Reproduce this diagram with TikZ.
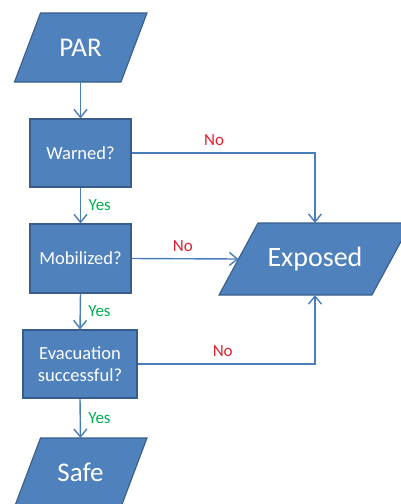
\documentclass[tikz,border=0pt]{standalone}
\usepackage{fontspec}
\setmainfont{Carlito}
\usetikzlibrary{arrows.meta}
\definecolor{boxfill}{HTML}{4F81BD}
\definecolor{boxline}{HTML}{385D8A}
\definecolor{connc}{HTML}{4A7EBB}
\definecolor{nored}{HTML}{E0202F}
\definecolor{yesgreen}{HTML}{00B050}
\tikzset{
  stepbox/.style={draw=boxline, fill=boxfill, line width=1.1pt, text=white,
    align=center, inner sep=0pt, font=\fontsize{18.5}{22}\selectfont},
  paral/.style={draw=boxline, fill=boxfill, line width=1.1pt},
  bigtext/.style={text=white, inner sep=0pt, font=\fontsize{27}{30}\selectfont},
  conn/.style={draw=connc, line width=1.4pt, -{Straight Barb[length=8pt,width=13pt,line width=1.4pt]}},
  nolab/.style={text=nored, anchor=south, inner sep=0pt, yshift=6.5pt, font=\fontsize{17}{20}\selectfont},
  yeslab/.style={text=yesgreen, anchor=west, inner sep=0pt, xshift=7.5pt, font=\fontsize{17}{20}\selectfont},
}
\begin{document}
\begin{tikzpicture}[x=1pt,y=-1pt]
\useasboundingbox (0,0) rectangle (401,504);
% PAR parallelogram
\draw[paral] (27.5+13,13) -- (134+13,13) -- (134-13,82) -- (27.5-13,82) -- cycle;
\node[bigtext] (par) at (80.5,47.5) {PAR};
\coordinate (par-s) at (80.5,82);
% Safe parallelogram
\draw[paral] (27.5+13,438) -- (134+13,438) -- (134-13,507) -- (27.5-13,507) -- cycle;
\node[bigtext] (safe) at (80.5,472.5) {Safe};
\coordinate (safe-n) at (80.5,438);
% Exposed parallelogram
\draw[paral] (238.5+19.5,223) -- (391.5+19.5,223) -- (391.5-19.5,295) -- (238.5-19.5,295) -- cycle;
\node[bigtext, font=\fontsize{28}{30}\selectfont] (exp) at (315,259) {Exposed};
\coordinate (exp-n) at (315,223);
\coordinate (exp-s) at (315,295);
\coordinate (exp-w) at (238.5,259);
% boxes
\node[stepbox, minimum width=101pt, minimum height=68pt] (warn) at (80.5,153) {Warned?};
\node[stepbox, minimum width=101pt, minimum height=69pt] (mob) at (80.5,258.5) {Mobilized?};
\node[stepbox, minimum width=114pt, minimum height=68pt] (evac) at (80,364) {Evacuation\\successful?};
% connectors
\draw[conn] (par-s) -- (warn.north);
\draw[conn] (warn.south) -- node[yeslab]{Yes} (mob.north);
\draw[conn] (mob.south) -- node[yeslab]{Yes} (evac.north);
\draw[conn] (evac.south) -- node[yeslab]{Yes} (safe-n);
\draw[conn] (warn.east) -| node[nolab, pos=0.225]{No} (exp-n);
\draw[conn] (mob.east) -- node[nolab, pos=0.48]{No} (exp-w);
\draw[conn] (evac.east) -| node[nolab, pos=0.24]{No} (exp-s);
\end{tikzpicture}
\end{document}
